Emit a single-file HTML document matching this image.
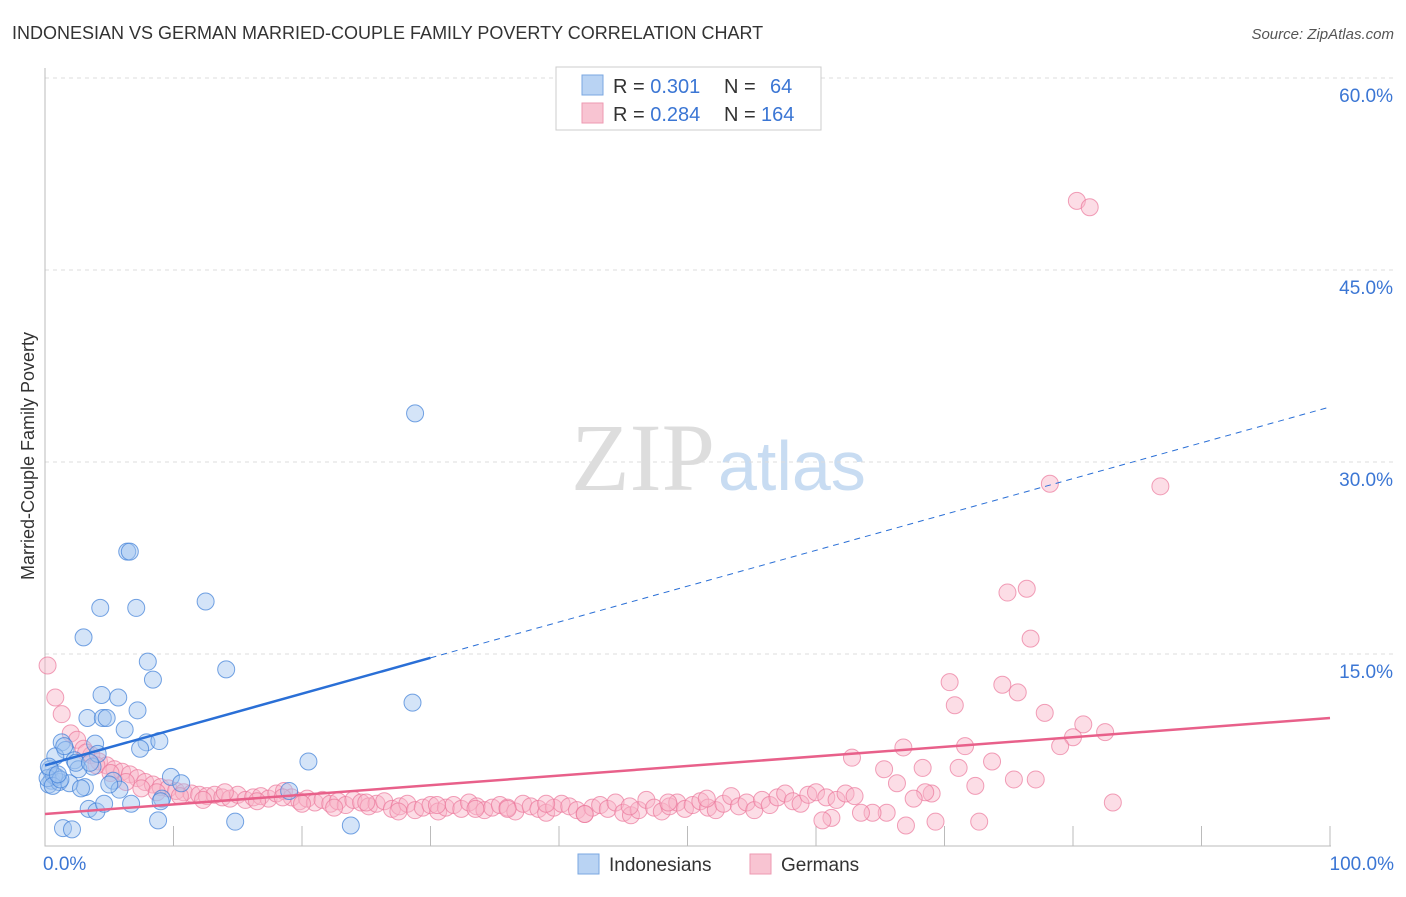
<!DOCTYPE html>
<html><head><meta charset="utf-8"><style>
body{margin:0;background:#fff;font-family:"Liberation Sans",sans-serif;}
</style></head><body>
<svg width="1406" height="892" id="c" xmlns="http://www.w3.org/2000/svg">
<text x="12" y="39" font-size="18" fill="#333">INDONESIAN VS GERMAN MARRIED-COUPLE FAMILY POVERTY CORRELATION CHART</text>
<text x="1394" y="39" font-size="15" fill="#555" font-style="italic" text-anchor="end">Source: ZipAtlas.com</text>
<text x="715" y="490" font-size="96" fill="#ddd" font-family="Liberation Serif" text-anchor="end">ZIP</text>
<text x="718" y="490" font-size="70" fill="#c8dcf2">atlas</text>
<text transform="translate(34,456) rotate(-90)" font-size="18" fill="#333" text-anchor="middle">Married-Couple Family Poverty</text>
<g id="grid"></g><g id="pts"></g><g id="lines"></g>
<g>
<rect x="556" y="67" width="265" height="63" fill="#fff" stroke="#ccc"/>
<rect x="582" y="75" width="21" height="20" fill="#b9d3f3" stroke="#7aa7e0"/>
<rect x="582" y="103" width="21" height="20" fill="#f8c4d2" stroke="#ee9ab2"/>
<text x="613" y="93" font-size="20" fill="#333">R = <tspan fill="#3b76d4">0.301</tspan><tspan x="724">N =</tspan><tspan x="770" fill="#3b76d4">64</tspan></text>
<text x="613" y="121" font-size="20" fill="#333">R = <tspan fill="#3b76d4">0.284</tspan><tspan x="724">N =</tspan><tspan x="761" fill="#3b76d4">164</tspan></text>
</g>
<g>
<rect x="578" y="854" width="21" height="20" fill="#b9d3f3" stroke="#7aa7e0"/>
<text x="609" y="871" font-size="19" fill="#333">Indonesians</text>
<rect x="750" y="854" width="21" height="20" fill="#f8c4d2" stroke="#ee9ab2"/>
<text x="781" y="871" font-size="19" fill="#333">Germans</text>
</g>
</svg>
<script>
const yTicks=[15,30,45,60];
const yTickLabels=["15.0%","30.0%","45.0%","60.0%"];
const xTickLabels=["0.0%","100.0%"];
const indoX=[28.8,6.4,6.6,4.3,7.1,12.5,3.0,8.0,8.4,14.1,4.4,5.7,28.6,3.3,4.5,4.8,7.2,6.2,7.9,8.9,7.4,1.3,3.9,1.6,0.8,2.3,3.7,20.5,9.8,10.6,5.3,5.8,3.1,9.1,9.0,3.4,4.0,4.6,6.7,1.4,2.1,8.8,14.8,23.8,19.0,0.5,0.3,0.9,1.1,0.4,0.7,1.9,2.6,1.5,2.8,0.2,0.6,1.2,4.1,5.0,2.4,3.5,0.3,1.0];
const indoY=[33.8,23.0,23.0,18.6,18.6,19.1,16.3,14.4,13.0,13.8,11.8,11.6,11.2,10.0,10.0,10.0,10.6,9.1,8.1,8.2,7.6,8.1,8.0,7.5,7.0,6.7,6.2,6.6,5.4,4.9,5.1,4.4,4.6,3.7,3.5,2.9,2.7,3.3,3.3,1.4,1.3,2.0,1.9,1.6,4.3,5.1,4.8,5.4,5.0,6.0,5.5,4.9,6.0,7.8,4.5,5.3,4.7,5.2,7.2,4.8,6.5,6.5,6.2,5.6];
const gerX=[80.3,81.3,78.2,86.8,74.9,76.4,76.7,70.4,74.5,75.7,70.8,77.8,80.8,80.0,79.0,82.5,71.6,66.8,62.8,73.7,71.1,68.3,65.3,77.1,75.4,72.4,66.3,69.0,68.5,67.6,83.1,72.7,69.3,67.0,65.5,64.4,63.5,61.2,60.5,0.2,0.8,1.3,2.0,2.5,3.0,3.6,4.2,4.8,5.4,6.0,6.6,7.2,7.8,8.4,9.0,9.6,10.2,10.8,11.4,12.0,12.6,13.2,13.8,14.4,15.0,15.6,16.2,16.8,17.4,18.0,18.6,19.2,19.8,20.4,21.0,21.6,22.2,22.8,23.4,24.0,24.6,25.2,25.8,26.4,27.0,27.6,28.2,28.8,29.4,30.0,30.6,31.2,31.8,32.4,33.0,33.6,34.2,34.8,35.4,36.0,36.6,37.2,37.8,38.4,39.0,39.6,40.2,40.8,41.4,42.0,42.6,43.2,43.8,44.4,45.0,45.6,46.2,46.8,47.4,48.0,48.6,49.2,49.8,50.4,51.0,51.6,52.2,52.8,53.4,54.0,54.6,55.2,55.8,56.4,57.0,57.6,58.2,58.8,59.4,60.0,60.8,61.6,62.3,63.0,3.2,4.0,5.1,6.3,7.5,8.7,10.5,12.3,14.0,16.5,18.5,20.0,22.5,25.0,27.5,30.5,33.5,36.0,39.0,42.0,45.5,48.5,51.5];
const gerY=[50.4,49.9,28.3,28.1,19.8,20.1,16.2,12.8,12.6,12.0,11.0,10.4,9.5,8.5,7.8,8.9,7.8,7.7,6.9,6.6,6.1,6.1,6.0,5.2,5.2,4.7,4.9,4.1,4.2,3.7,3.4,1.9,1.9,1.6,2.6,2.6,2.6,2.2,2.0,14.1,11.6,10.3,8.8,8.3,7.6,7.1,6.6,6.3,6.0,5.8,5.6,5.3,5.0,4.8,4.6,4.5,4.3,4.2,4.1,4.0,3.9,4.0,3.8,3.7,4.0,3.6,3.8,3.9,3.7,4.1,4.3,3.8,3.5,3.7,3.4,3.6,3.3,3.5,3.2,3.6,3.4,3.1,3.3,3.5,2.9,3.1,3.3,2.8,3.0,3.2,2.7,3.0,3.2,2.9,3.4,3.1,2.8,3.0,3.2,3.0,2.7,3.3,3.1,2.9,2.6,3.0,3.3,3.1,2.8,2.5,3.0,3.2,2.9,3.4,2.6,2.4,2.8,3.6,3.0,2.7,3.1,3.4,2.9,3.2,3.5,3.0,2.8,3.3,3.9,3.1,3.4,2.8,3.6,3.2,3.8,4.1,3.5,3.3,4.0,4.2,3.8,3.6,4.1,3.9,7.3,6.3,5.7,5.0,4.5,4.2,3.9,3.6,4.2,3.5,3.8,3.3,3.0,3.4,2.7,3.2,2.9,2.9,3.3,2.5,3.1,3.4,3.7];
const X=v=>45+v*12.85, Y=v=>846-v*12.8;
const ns="http://www.w3.org/2000/svg";
function mk(p,t,a){const e=document.createElementNS(ns,t);for(const k in a)e.setAttribute(k,a[k]);p.appendChild(e);return e;}
const g=document.getElementById('grid');
yTicks.forEach((t,i)=>{
 const l=mk(g,'line',{x1:45,x2:1394,y1:Y(t),y2:Y(t),stroke:'#ddd','stroke-dasharray':'4,4'});
 
 
 const tx=mk(g,'text',{x:1393,y:Y(t)+24,'font-size':19,fill:'#3b76d4','text-anchor':'end'});
 tx.textContent=yTickLabels[i];
 
 
});
const ax=mk(g,'path',{d:`M45,68 V846 H1331`,stroke:'#bbb',fill:'none'});


for(let i=1;i<=10;i++){const t=mk(g,'line',{x1:X(i*10),x2:X(i*10),y1:826,y2:846,stroke:'#bbb'});
 
 }
[[0,'start',43],[100,'end',1394]].forEach((d,i)=>{const t=mk(g,'text',{x:d[2],y:870,'font-size':19,fill:'#3b76d4','text-anchor':d[1]});t.textContent=xTickLabels[i];
 
 });
const pg=document.getElementById('pts');
const n=Math.min(gerX.length,gerY.length);
for(let i=0;i<n;i++){const c=mk(pg,'circle',{cx:X(gerX[i]),cy:Y(gerY[i]),r:8.5,fill:'rgba(248,180,200,0.45)',stroke:'rgba(235,120,155,0.7)','stroke-width':1});
 
 }
indoX.forEach((x,i)=>{const c=mk(pg,'circle',{cx:X(x),cy:Y(indoY[i]),r:8.5,fill:'rgba(160,195,240,0.45)',stroke:'rgba(60,125,215,0.7)','stroke-width':1});
 
 });
const lg=document.getElementById('lines');
const bl=mk(lg,'line',{x1:X(0),y1:Y(6.3),x2:X(30),y2:Y(14.7),stroke:'#2a6fd6','stroke-width':2.5});


const bd=mk(lg,'line',{x1:X(30),y1:Y(14.7),x2:X(100),y2:Y(34.3),stroke:'#2a6fd6','stroke-width':1,'stroke-dasharray':'6,5'});


const pl=mk(lg,'line',{x1:X(0),y1:Y(2.5),x2:X(100),y2:Y(10),stroke:'#e8608a','stroke-width':2.5});


</script>
</body></html>
